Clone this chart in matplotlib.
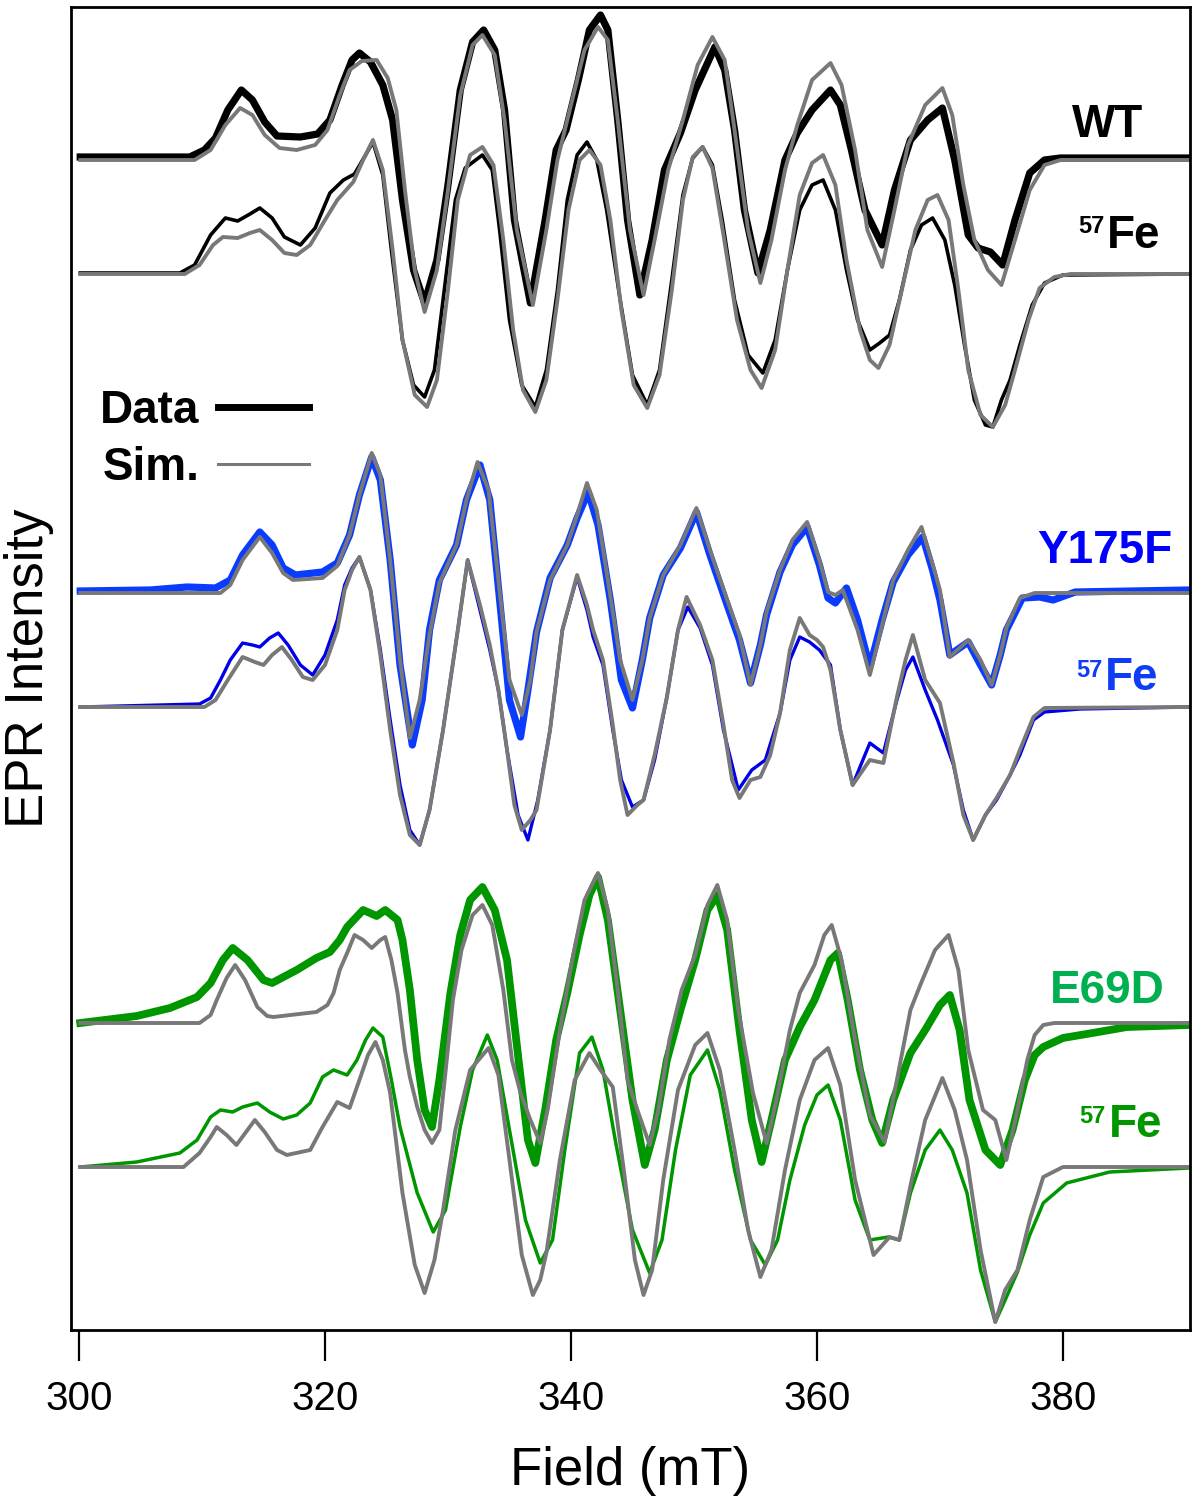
import matplotlib
matplotlib.use("Agg")
import matplotlib.pyplot as plt
import numpy as np
from matplotlib.lines import Line2D

plt.rcParams["font.family"] = ["Liberation Sans", "DejaVu Sans"]

# ---- WT ------------------------------------------------------------------
WT_DATA_FIELD = [300.1, 309.0, 310.2, 311.1, 312.1, 313.2, 314.1, 315.1, 316.1, 318.0,
                 319.4, 320.4, 321.4, 322.2, 322.8, 323.7, 324.7, 325.5, 326.3, 327.2,
                 328.1, 329.1, 330.0, 331.0, 332.0, 332.9, 333.8, 334.6, 335.4, 336.7,
                 337.9, 338.8, 339.6, 340.6, 341.5, 342.4, 343.0, 343.8, 344.6, 345.6,
                 346.6, 347.6, 348.9, 350.1, 351.7, 352.5, 353.3, 354.1, 355.2, 356.2,
                 357.4, 358.4, 359.6, 361.1, 361.9, 362.8, 363.9, 365.3, 366.3, 367.6,
                 369.0, 370.2, 371.2, 372.3, 373.1, 374.1, 375.1, 376.1, 377.3, 378.5,
                 379.8, 390.3]
WT_DATA = [1, 1, 8, 20, 48, 68, 58, 36, 22, 21,
           24, 38, 73, 98, 105, 96, 73, 38, -42, -112,
           -145, -102, -27, 68, 116, 128, 108, 48, -62, -145,
           -62, 8, 28, 78, 128, 143, 128, 38, -62, -137,
           -82, -12, 25, 68, 111, 88, 28, -52, -115, -72,
           -2, 25, 48, 68, 53, 8, -52, -87, -32, 18,
           38, 50, -2, -77, -90, -94, -107, -62, -15, -2,
           0, 0]
WT_SIM_FIELD = [300.1, 309.4, 310.7, 311.9, 313.1, 314.1, 315.1, 316.3, 317.7, 319.2,
                320.2, 321.2, 322.0, 323.0, 324.2, 325.1, 325.8, 326.5, 327.3, 328.1,
                329.1, 330.0, 331.0, 332.0, 332.8, 333.8, 334.6, 335.6, 336.9, 338.0,
                338.9, 339.9, 341.1, 342.2, 343.0, 343.8, 344.8, 345.9, 346.8, 347.9,
                349.1, 350.3, 351.5, 352.5, 353.3, 354.4, 355.4, 356.3, 357.4, 358.4,
                359.6, 361.1, 362.0, 363.1, 364.1, 365.3, 366.3, 367.4, 368.8, 370.2,
                371.0, 371.9, 372.8, 373.9, 375.0, 376.1, 377.3, 378.5, 379.8, 390.3]
WT_SIM = [-2, -2, 8, 33, 50, 43, 23, 10, 8, 13,
          28, 63, 88, 97, 98, 80, 48, -32, -112, -154,
          -112, -32, 63, 113, 123, 103, 38, -72, -147, -72,
          -2, 48, 108, 131, 118, 38, -72, -137, -82, -12,
          38, 93, 121, 98, 28, -72, -125, -82, -12, 33,
          78, 95, 73, 8, -72, -109, -52, 13, 53, 70,
          43, -27, -82, -112, -127, -82, -32, -7, -2, -2]

WT57_DATA_FIELD = [300.1, 308.2, 309.4, 310.7, 311.9, 312.9, 313.9, 314.7, 315.7, 316.7,
                   318.0, 319.2, 320.4, 321.5, 322.4, 323.3, 323.9, 324.7, 325.4, 326.3,
                   327.2, 328.1, 328.9, 329.8, 330.6, 331.4, 332.8, 333.6, 334.2, 335.0,
                   336.0, 337.1, 338.0, 338.9, 339.7, 340.5, 341.3, 342.1, 342.9, 344.0,
                   345.0, 346.2, 347.2, 348.2, 349.1, 349.9, 350.7, 351.5, 352.3, 353.3,
                   354.4, 355.6, 356.6, 357.6, 358.6, 359.6, 360.5, 361.5, 362.4, 363.3,
                   364.3, 365.1, 365.9, 366.7, 367.6, 368.5, 369.4, 370.4, 371.2, 372.0,
                   372.8, 373.7, 374.3, 375.0, 375.7, 376.5, 377.5, 378.5, 380.0, 390.3]
WT57_DATA = [0, 0, 8, 38, 55, 52, 59, 65, 55, 36,
             28, 45, 80, 93, 99, 118, 131, 98, 23, -67,
             -112, -124, -97, -7, 73, 105, 118, 103, 43, -47,
             -112, -134, -97, -17, 73, 118, 131, 113, 63, -27,
             -102, -132, -97, -7, 78, 115, 126, 108, 53, -27,
             -82, -100, -67, 3, 63, 88, 93, 63, 3, -47,
             -77, -70, -62, -27, 23, 48, 55, 33, -12, -72,
             -127, -152, -154, -127, -107, -72, -32, -10, -2, -1]
WT57_SIM_FIELD = [300.1, 308.6, 309.8, 310.9, 311.7, 312.9, 313.9, 314.7, 315.7, 316.7,
                  317.7, 318.8, 320.0, 321.0, 322.3, 323.1, 323.9, 324.7, 325.5, 326.3,
                  327.3, 328.3, 329.1, 330.0, 330.8, 331.8, 332.8, 333.7, 334.5, 335.3,
                  336.1, 337.1, 338.0, 338.9, 339.8, 340.7, 341.5, 342.4, 343.2, 344.1,
                  345.1, 346.2, 347.2, 348.2, 349.1, 349.9, 350.7, 351.5, 352.4, 353.5,
                  354.6, 355.5, 356.6, 357.6, 358.6, 359.6, 360.5, 361.5, 362.4, 363.5,
                  364.3, 365.0, 365.9, 366.9, 368.0, 369.0, 369.8, 370.7, 371.5, 372.3,
                  373.3, 374.3, 375.3, 376.1, 377.2, 378.1, 379.3, 380.6, 390.3]
WT57_SIM = [-1, -1, 8, 28, 36, 35, 40, 43, 33, 20,
            18, 28, 53, 73, 91, 113, 133, 103, 23, -67,
            -122, -134, -107, -17, 73, 118, 126, 108, 33, -57,
            -117, -139, -107, -27, 63, 113, 123, 108, 53, -37,
            -112, -135, -102, -17, 73, 116, 126, 105, 38, -47,
            -97, -115, -77, 3, 78, 110, 118, 88, 13, -57,
            -87, -95, -72, -17, 43, 73, 78, 53, -17, -97,
            -142, -154, -132, -97, -47, -15, -4, -1, -1]

# ---- Y175F ---------------------------------------------------------------
Y175F_DATA_FIELD = [300.1, 305.8, 308.8, 311.1, 312.3, 313.3, 314.7, 315.7, 316.6, 317.6,
                    319.8, 321.0, 322.0, 322.8, 323.8, 324.5, 325.3, 326.1, 327.1, 327.9,
                    328.5, 329.3, 330.7, 331.5, 332.6, 333.4, 334.2, 335.0, 335.9, 336.5,
                    337.2, 338.3, 339.7, 340.5, 341.4, 342.2, 343.2, 344.1, 345.0, 345.8,
                    346.4, 347.5, 348.9, 350.2, 351.3, 352.7, 353.7, 354.6, 355.4, 355.9,
                    357.0, 358.0, 359.2, 360.2, 360.9, 361.5, 362.4, 363.3, 364.3, 365.3,
                    366.2, 367.4, 368.6, 369.4, 370.0, 370.8, 371.6, 372.3, 373.3, 374.2,
                    374.9, 375.4, 376.7, 378.1, 379.2, 381.0, 390.3]
Y175F_DATA = [1, 2, 5, 4, 12, 37, 60, 47, 24, 17,
              20, 29, 57, 97, 135, 112, 32, -73, -153, -108,
              -38, 12, 47, 92, 127, 92, -8, -108, -145, -98,
              -40, 14, 47, 74, 100, 67, -8, -88, -116, -68,
              -26, 17, 44, 80, 37, -13, -48, -91, -53, -23,
              20, 47, 65, 27, -6, -11, 4, -28, -75, -28,
              10, 37, 55, 22, -8, -63, -56, -50, -73, -93,
              -63, -38, -6, -5, -8, 0, 2]
Y175F_SIM_FIELD = [300.1, 311.5, 312.3, 313.3, 314.7, 315.7, 316.6, 317.4, 319.8, 321.0,
                   322.0, 322.8, 323.8, 324.5, 325.3, 326.1, 326.9, 327.7, 328.5, 329.3,
                   330.7, 331.5, 332.4, 333.3, 334.1, 335.0, 336.0, 336.7, 337.2, 338.3,
                   339.7, 340.5, 341.3, 342.1, 343.0, 344.0, 345.0, 345.8, 346.4, 347.5,
                   348.9, 350.2, 351.3, 352.7, 353.7, 354.6, 355.4, 355.9, 357.0, 358.0,
                   359.2, 360.2, 360.9, 361.5, 362.1, 363.3, 364.3, 365.3, 366.2, 367.4,
                   368.5, 369.3, 370.0, 370.8, 371.6, 372.3, 373.3, 374.2, 374.9, 375.4,
                   376.5, 377.7, 390.3]
Y175F_SIM = [-1, -1, 7, 32, 55, 39, 19, 12, 14, 26,
             57, 97, 139, 117, 32, -68, -146, -108, -43, 9,
             47, 92, 130, 102, 12, -88, -123, -88, -40, 12,
             47, 77, 109, 82, 12, -68, -108, -68, -26, 17,
             47, 84, 42, -8, -43, -93, -53, -20, 22, 52,
             70, 32, 0, -3, 2, -38, -83, -33, 12, 42,
             65, 32, 2, -65, -56, -48, -68, -93, -63, -36,
             -6, -1, -1]

Y57_DATA_FIELD = [300.1, 309.8, 310.7, 311.5, 312.3, 313.3, 314.1, 314.7, 315.5, 316.2,
                  317.0, 318.0, 319.0, 320.0, 321.0, 321.6, 322.2, 322.8, 323.7, 324.5,
                  325.3, 326.1, 326.9, 327.7, 328.5, 329.6, 330.2, 330.8, 331.6, 332.6,
                  333.4, 334.1, 334.8, 335.7, 336.5, 337.3, 338.3, 339.3, 340.5, 341.3,
                  341.8, 342.6, 343.4, 344.1, 345.0, 345.9, 346.8, 347.8, 348.7, 349.5,
                  350.5, 351.5, 352.4, 353.6, 354.7, 355.8, 357.0, 357.8, 358.6, 359.4,
                  360.2, 361.1, 361.9, 362.9, 364.3, 365.4, 366.5, 367.2, 367.8, 368.8,
                  369.8, 371.1, 371.9, 372.7, 373.7, 374.6, 375.7, 376.5, 377.6, 378.5,
                  381.4, 390.3]
Y57_DATA = [0, 3, 9, 27, 47, 64, 62, 60, 69, 74,
            62, 42, 32, 52, 87, 122, 139, 150, 117, 57,
            -13, -78, -123, -138, -103, -23, 27, 77, 147, 97,
            57, 17, -43, -108, -133, -93, -23, 77, 130, 97,
            70, 42, -23, -73, -100, -93, -53, 10, 77, 100,
            79, 42, -23, -83, -63, -53, -6, 47, 70, 65,
            57, 42, -23, -78, -36, -46, 7, 37, 50, 17,
            -13, -58, -103, -133, -108, -93, -68, -48, -13, -5,
            -2, 0]
Y57_SIM_FIELD = [300.1, 310.2, 311.1, 312.1, 313.3, 314.3, 315.0, 315.7, 316.5, 317.3,
                 318.2, 319.0, 320.0, 321.0, 321.6, 322.2, 322.8, 323.7, 324.5, 325.3,
                 326.1, 326.9, 327.7, 328.5, 329.6, 330.2, 330.8, 331.6, 332.6, 333.4,
                 334.1, 334.8, 335.4, 336.0, 336.7, 337.2, 338.3, 339.3, 340.5, 341.3,
                 341.8, 342.6, 343.4, 344.0, 344.6, 345.4, 345.9, 346.8, 347.8, 348.7,
                 349.4, 350.5, 351.5, 352.4, 353.1, 353.7, 354.6, 355.4, 356.2, 357.0,
                 357.8, 358.6, 359.4, 360.0, 360.5, 361.1, 361.9, 362.9, 364.3, 365.4,
                 366.5, 367.2, 367.8, 368.8, 370.0, 371.1, 371.9, 372.7, 373.7, 374.6,
                 375.7, 376.5, 377.6, 378.5, 390.3]
Y57_SIM = [0, 0, 7, 27, 50, 45, 42, 52, 60, 47,
           30, 27, 42, 77, 117, 137, 150, 117, 52, -23,
           -88, -128, -138, -103, -23, 27, 77, 147, 102, 62,
           17, -43, -98, -123, -113, -103, -23, 77, 132, 102,
           77, 47, -18, -73, -108, -98, -93, -48, 10, 77,
           110, 82, 47, -18, -73, -91, -73, -70, -48, -6,
           57, 89, 72, 67, 60, 37, -23, -78, -53, -56,
           10, 47, 72, 27, 4, -56, -108, -133, -108, -91,
           -68, -43, -10, -1, 0]

# ---- E69D ----------------------------------------------------------------
E69D_DATA_FIELD = [300.1, 304.7, 307.4, 309.6, 310.7, 311.7, 312.5, 313.7, 315.0, 315.7,
                   317.7, 319.3, 320.4, 321.2, 321.8, 323.1, 324.2, 324.9, 325.9, 326.3,
                   326.9, 327.5, 328.1, 328.7, 329.3, 330.2, 331.0, 331.8, 332.8, 333.8,
                   334.8, 335.9, 336.5, 337.1, 337.9, 338.8, 339.7, 340.7, 341.5, 342.2,
                   343.0, 344.0, 345.0, 346.0, 346.8, 347.8, 348.9, 350.1, 351.1, 351.9,
                   352.7, 353.7, 354.7, 355.5, 356.3, 357.4, 358.6, 359.8, 361.1, 361.7,
                   362.5, 363.5, 364.5, 365.3, 366.2, 367.6, 368.8, 370.0, 370.8, 371.6,
                   372.4, 373.7, 374.9, 375.9, 376.9, 377.7, 378.4, 380.0, 382.4, 385.2,
                   390.2]
E69D_DATA = [0, 7, 15, 26, 40, 63, 75, 63, 43, 40,
             53, 65, 71, 83, 96, 113, 107, 113, 103, 83,
             33, -37, -87, -104, -57, 30, 88, 123, 136, 113,
             63, -54, -117, -140, -87, -17, 30, 88, 128, 146,
             103, 13, -77, -142, -107, -37, 13, 63, 113, 128,
             93, -7, -97, -139, -97, -37, -4, 23, 63, 70,
             23, -47, -97, -120, -77, -30, -7, 18, 28, -7,
             -77, -127, -142, -107, -57, -32, -24, -15, -10, -4,
             -2]
E69D_SIM_FIELD = [300.1, 309.8, 310.7, 311.2, 312.0, 312.7, 313.5, 314.5, 315.3, 315.8,
                  319.3, 320.2, 320.7, 321.2, 321.8, 322.4, 323.1, 323.8, 324.5, 324.9,
                  325.4, 325.9, 326.5, 326.9, 327.5, 328.1, 328.7, 329.3, 329.9, 330.4,
                  331.1, 332.0, 332.8, 333.6, 334.5, 335.2, 335.9, 336.7, 337.5, 338.1,
                  339.1, 340.1, 341.1, 342.2, 343.0, 343.8, 344.6, 345.4, 346.4, 347.1,
                  348.0, 349.0, 350.1, 351.1, 351.9, 352.7, 353.6, 354.8, 355.9, 356.7,
                  357.8, 358.6, 359.8, 360.6, 361.2, 362.0, 363.1, 364.3, 365.5, 366.5,
                  367.6, 368.4, 369.6, 370.7, 371.5, 372.3, 373.5, 374.5, 375.4, 376.3,
                  377.1, 377.7, 378.4, 379.3, 390.2]
E69D_SIM = [0, 0, 8, 23, 45, 58, 43, 16, 7, 6,
            11, 18, 30, 53, 70, 88, 83, 75, 83, 86,
            63, 30, -27, -54, -84, -107, -120, -107, -37, 23,
            73, 108, 118, 98, 33, -37, -70, -97, -120, -87,
            -7, 63, 123, 150, 113, 33, -57, -87, -122, -87,
            -17, 33, 68, 118, 138, 103, 13, -70, -120, -77,
            -7, 30, 58, 88, 98, 63, -17, -92, -119, -57,
            13, 38, 73, 88, 53, -27, -87, -97, -137, -87,
            -37, -12, -2, 0, 0]

E57_DATA_FIELD = [300.1, 304.7, 308.2, 309.6, 310.7, 311.5, 312.5, 313.3, 314.5, 315.5,
                  316.6, 317.7, 318.8, 319.8, 320.7, 321.8, 322.6, 323.3, 323.9, 324.7,
                  325.4, 326.1, 327.5, 328.8, 329.8, 331.0, 332.0, 333.2, 334.0, 335.0,
                  336.3, 337.5, 338.5, 339.5, 340.7, 341.7, 342.6, 343.6, 345.0, 346.4,
                  347.4, 348.5, 349.7, 351.1, 352.1, 353.3, 354.6, 355.8, 356.8, 357.8,
                  359.0, 360.0, 360.9, 361.9, 363.1, 364.3, 365.8, 366.7, 367.6, 368.8,
                  370.0, 371.0, 372.2, 373.3, 374.5, 375.3, 376.3, 377.3, 378.4, 380.3,
                  383.8, 390.2]
E57_DATA = [0, 5, 14, 27, 50, 57, 55, 60, 64, 55,
            48, 52, 64, 90, 97, 92, 107, 127, 139, 130,
            87, 40, -26, -65, -43, 40, 97, 132, 107, 37,
            -53, -96, -73, 17, 114, 130, 97, 27, -63, -106,
            -73, 17, 92, 117, 77, -3, -73, -98, -73, -13,
            42, 72, 82, 47, -33, -73, -70, -73, -26, 17,
            37, 17, -26, -103, -155, -133, -105, -68, -36, -16,
            -5, -1]
E57_SIM_FIELD = [300.1, 308.5, 309.8, 310.7, 311.2, 312.0, 312.8, 313.7, 314.3, 315.1,
                 316.1, 316.9, 318.8, 319.8, 321.0, 322.0, 322.8, 323.5, 324.1, 324.7,
                 325.3, 326.3, 327.3, 328.1, 328.9, 329.6, 330.6, 331.8, 333.3, 334.1,
                 335.0, 336.0, 336.9, 337.5, 338.0, 339.1, 340.3, 341.5, 342.4, 343.4,
                 344.4, 345.2, 345.9, 346.6, 347.5, 348.7, 350.1, 351.1, 352.1, 353.3,
                 354.4, 355.4, 356.3, 357.4, 358.6, 359.8, 360.9, 361.9, 363.1, 364.6,
                 365.9, 366.7, 367.7, 368.8, 370.2, 371.2, 372.2, 373.3, 374.5, 375.3,
                 376.3, 377.3, 378.4, 380.0, 390.2]
E57_SIM = [0, 0, 14, 30, 40, 32, 22, 37, 47, 35,
           17, 12, 17, 40, 65, 59, 87, 112, 125, 107,
           74, -26, -98, -126, -93, -43, 37, 97, 119, 92,
           7, -88, -128, -113, -86, 7, 87, 114, 97, 80,
           -13, -93, -128, -103, -13, 77, 122, 134, 97, 17,
           -63, -110, -83, -3, 67, 107, 119, 82, -13, -88,
           -70, -73, -13, 47, 89, 57, 7, -83, -155, -123,
           -103, -53, -10, 0, 0]

# vertical stacking offsets (arb. units)
OFF_WT, OFF_WT57 = 1172, 1057
OFF_Y, OFF_Y57 = 738, 623
OFF_E, OFF_E57 = 307, 163

GRAY = "#787878"
BLUE_THICK = "#0a3cff"
BLUE_THIN = "#0000e8"
GREEN = "#009600"

fig = plt.figure(figsize=(12.03, 15.0), dpi=100)
ax = fig.add_axes([71 / 1203, 170 / 1500, 1119 / 1203, 1323 / 1500])

# (data field, data, sim field, sim, offset, colour, data lw)
traces = [
    (WT_DATA_FIELD, WT_DATA, WT_SIM_FIELD, WT_SIM, OFF_WT, "black", 5.2),
    (WT57_DATA_FIELD, WT57_DATA, WT57_SIM_FIELD, WT57_SIM, OFF_WT57, "black", 2.6),
    (Y175F_DATA_FIELD, Y175F_DATA, Y175F_SIM_FIELD, Y175F_SIM, OFF_Y, BLUE_THICK, 5.2),
    (Y57_DATA_FIELD, Y57_DATA, Y57_SIM_FIELD, Y57_SIM, OFF_Y57, BLUE_THIN, 2.4),
    (E69D_DATA_FIELD, E69D_DATA, E69D_SIM_FIELD, E69D_SIM, OFF_E, GREEN, 5.6),
    (E57_DATA_FIELD, E57_DATA, E57_SIM_FIELD, E57_SIM, OFF_E57, GREEN, 2.5),
]
for fd, d, fs, s, off, col, lw in traces:
    ax.plot(fd, np.array(d) + off, color=col, lw=lw, solid_joinstyle="round")
    ax.plot(fs, np.array(s) + off, color=GRAY, lw=2.8, solid_joinstyle="round")

ax.set_xlim(299.35, 390.33)
ax.set_ylim(0, 1323)
ax.set_xticks([300, 320, 340, 360, 380])
ax.set_yticks([])
ax.tick_params(axis="x", direction="out", length=22, width=1.6,
               labelsize=29, pad=14)
for sp in ax.spines.values():
    sp.set_linewidth(2.0)

ax.set_xlabel("Field (mT)", fontsize=38, labelpad=20)
ax.set_ylabel("EPR Intensity", fontsize=38, labelpad=12)

# sample labels
lab = dict(fontsize=33, fontweight="bold", va="baseline")
sup = dict(fontsize=17, fontweight="bold", va="baseline", ha="right")
ax.text(383.6, 1193, "WT", color="black", ha="center", **lab)
ax.text(383.6, 1082, "Fe", color="black", ha="left", **lab)
ax.text(383.4, 1097, "57", color="black", **sup)

ax.text(383.4, 767, "Y175F", color="#0000ff", ha="center", **lab)
ax.text(383.4, 640, "Fe", color="#0f3cf5", ha="left", **lab)
ax.text(383.2, 653, "57", color="#0f3cf5", **sup)

ax.text(383.6, 327, "E69D", color="#00b050", ha="center", **lab)
ax.text(383.7, 193, "Fe", color=GREEN, ha="left", **lab)
ax.text(383.5, 207, "57", color=GREEN, **sup)

handles = [Line2D([], [], color="black", lw=5.0),
           Line2D([], [], color=GRAY, lw=2.2)]
ax.legend(handles, ["Data", "Sim."], loc="upper left",
          bbox_to_anchor=(0.026, 0.711), frameon=False, markerfirst=False,
          prop=dict(size=33, weight="bold"), handlelength=2.0,
          handletextpad=0.4, labelspacing=0.28, borderpad=0, borderaxespad=0)

fig.savefig("out.png", dpi=100)
